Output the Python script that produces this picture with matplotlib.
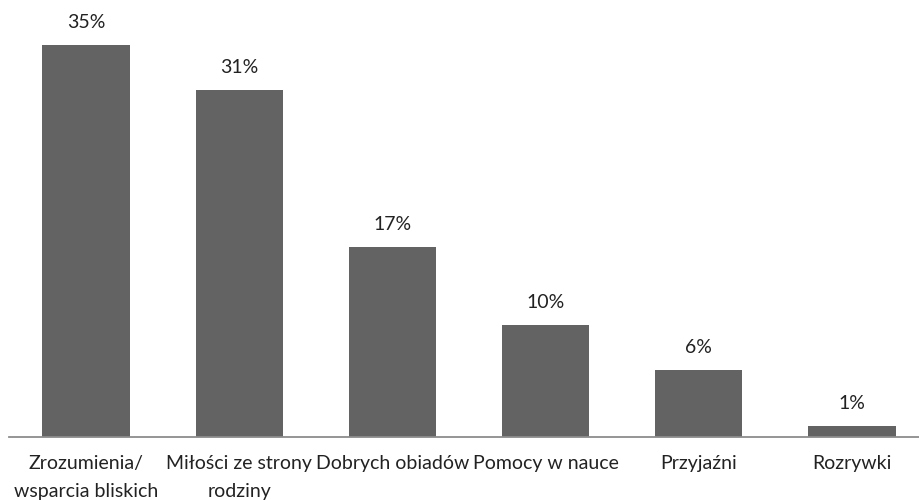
import numpy as np
import matplotlib.pyplot as plt

plt.rcParams['font.family'] = ['Lato', 'DejaVu Sans']

# Dane
kategorie = ['Zrozumienia/\nwsparcia bliskich', 'Miłości ze strony\nrodziny',
             'Dobrych obiadów', 'Pomocy w nauce', 'Przyjaźni', 'Rozrywki']
wartosci = [35, 31, 17, 10, 6, 1]
etykiety = ['35%', '31%', '17%', '10%', '6%', '1%']

fig = plt.figure(figsize=(9.2, 5.0), dpi=100)
ax = fig.add_axes([9.4 / 920, 63 / 500, 919.2 / 920, 437 / 500])

x = np.arange(len(kategorie))
bars = ax.bar(x, wartosci, width=0.57, color='#636363')

for b, lab in zip(bars, etykiety):
    ax.annotate(lab, (b.get_x() + b.get_width() / 2, b.get_height()),
                xytext=(0, 10), textcoords='offset points',
                ha='center', va='bottom', fontsize=14, color='#222222')

ax.set_xlim(-0.5, len(kategorie) - 0.5)
ax.set_ylim(0, 39)
ax.set_xticks(x)
ax.set_xticklabels(kategorie, fontsize=14, color='#222222', linespacing=1.8)
ax.tick_params(axis='x', length=0, pad=13)
ax.set_yticks([])

for s in ['top', 'right', 'left']:
    ax.spines[s].set_visible(False)
ax.spines['bottom'].set_color('#8c8c8c')
ax.spines['bottom'].set_linewidth(1.3)

fig.savefig('out.png', dpi=100)
